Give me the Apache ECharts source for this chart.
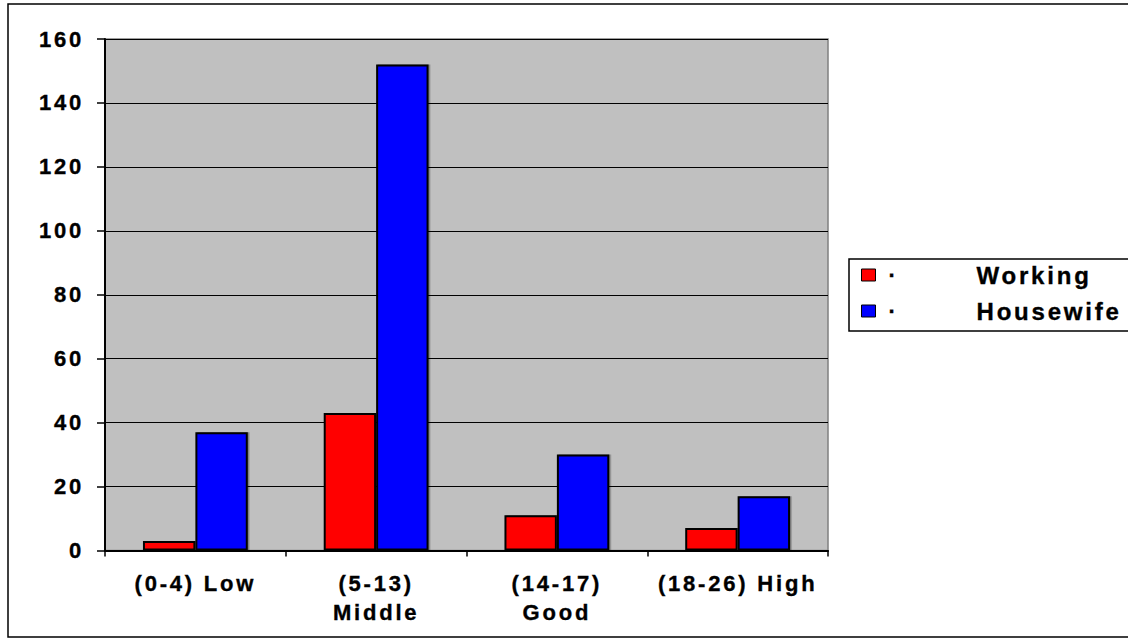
<!DOCTYPE html>
<html><head><meta charset="utf-8">
<script src="https://cdn.jsdelivr.net/npm/echarts@6/dist/echarts.min.js"></script>
<style>html,body{margin:0;padding:0;background:#fff}#c{width:1128px;height:644px;overflow:hidden}#c svg text{letter-spacing:2.8px;stroke:#000;stroke-width:0.35px}</style>
</head><body><div id="c"></div>
<script>
const categories = ['(0-4) Low', '(5-13)\nMiddle', '(14-17)\nGood', '(18-26) High'];
const working = [3, 43, 11, 7];
const housewife = [37, 152, 30, 17];
const seriesNames = ['Working', 'Housewife'];
const yTicks = {min: 0, max: 160, interval: 20};

const font = '"Liberation Sans", Arial, sans-serif';
const chart = echarts.init(document.getElementById('c'), null, {renderer: 'svg'});
const barStyle = c => ({color: c, borderColor: '#000', borderWidth: 2, shadowColor: 'rgba(0,0,0,0.35)', shadowOffsetX: 1.5, shadowOffsetY: 0, shadowBlur: 0});
chart.setOption({
  animation: false,
  backgroundColor: '#fff',
  graphic: [{type: 'rect', shape: {x: 8, y: 4, width: 1140, height: 633}, style: {fill: 'none', stroke: '#000', lineWidth: 1.5}, z: 100}],
  grid: {left: 105, right: 300, top: 39, bottom: 93.5, show: true, backgroundColor: '#C0C0C0', borderColor: '#808080', borderWidth: 1.5},
  legend: {
    orient: 'vertical', left: 849, top: 259,
    borderColor: '#000', borderWidth: 1.5, padding: [4, 60, 8, 12],
    itemWidth: 14, itemHeight: 12, itemGap: 12,
    icon: 'rect',
    itemStyle: {borderColor: '#000', borderWidth: 1},
    formatter: n => '{d|·}{n|' + n + '}',
    textStyle: {
      rich: {
        d: {width: 88, padding: [0, 0, 0, 8], fontFamily: font, fontWeight: 'bold', fontSize: 22, lineHeight: 26, color: '#000'},
        n: {fontFamily: font, fontWeight: 'bold', fontSize: 24, lineHeight: 26, color: '#000'}
      }
    },
    data: seriesNames
  },
  xAxis: {
    type: 'category', data: categories,
    axisLine: {lineStyle: {color: '#000', width: 2}},
    axisTick: {show: true, length: 6, lineStyle: {color: '#000', width: 1.5}},
    axisLabel: {margin: 18, fontFamily: font, fontWeight: 'bold', fontSize: 22, color: '#000', lineHeight: 29, interval: 0}
  },
  yAxis: {
    type: 'value', min: yTicks.min, max: yTicks.max, interval: yTicks.interval,
    axisLine: {show: true, lineStyle: {color: '#000', width: 2}},
    axisTick: {show: true, length: 8, lineStyle: {color: '#000', width: 1.5}},
    splitLine: {lineStyle: {color: '#000', width: 1}},
    axisLabel: {margin: 21, fontFamily: font, fontWeight: 'bold', fontSize: 22, color: '#000'}
  },
  series: [
    {name: seriesNames[0], type: 'bar', data: working, barGap: '0%', barCategoryGap: '42%', itemStyle: barStyle('#FF0000')},
    {name: seriesNames[1], type: 'bar', data: housewife, barGap: '0%', barCategoryGap: '42%', itemStyle: barStyle('#0000FF')}
  ]
});
</script></body></html>
